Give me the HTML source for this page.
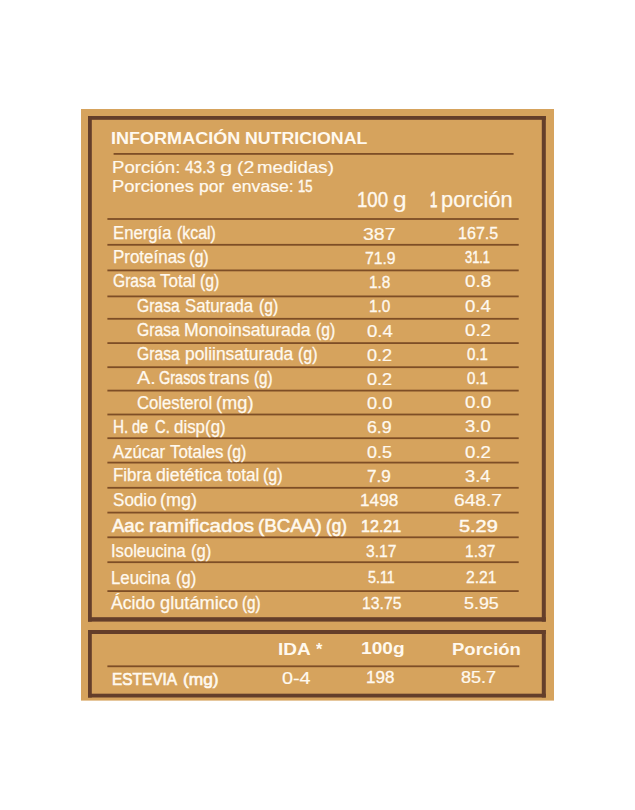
<!DOCTYPE html>
<html lang="es">
<head>
<meta charset="utf-8">
<title>Información Nutricional</title>
<style>
html,body{margin:0;padding:0;background:#fff;}
body{width:635px;height:810px;position:relative;overflow:hidden;font-family:"Liberation Sans",sans-serif;}
.t{position:absolute;display:block;white-space:nowrap;line-height:20px;color:#FFF9EF;transform-origin:0 0;}
.title{font-size:17.4px;font-weight:700;}
.por{font-size:16.6px;font-weight:400;-webkit-text-stroke:0.25px #FFF9EF;}
.head{font-size:21.4px;font-weight:400;-webkit-text-stroke:0.25px #FFF9EF;}
.lab{font-size:17.5px;font-weight:400;-webkit-text-stroke:0.25px #FFF9EF;}
.num{font-size:16.4px;font-weight:400;-webkit-text-stroke:0.3px #FFF9EF;}
.blab{font-size:18.3px;font-weight:400;-webkit-text-stroke:0.55px #FFF9EF;}
.bnum{font-size:16.6px;font-weight:400;-webkit-text-stroke:0.6px #FFF9EF;}
.bhead{font-size:17.4px;font-weight:700;}
.est{font-size:16.6px;font-weight:400;-webkit-text-stroke:0.6px #FFF9EF;}
</style>
</head>
<body>
<svg width="635" height="810" viewBox="0 0 635 810" style="position:absolute;left:0;top:0">
<rect x="81" y="109" width="473" height="591.6" fill="#D6A35D"/>
<rect x="88" y="116" width="457.80" height="3.8" fill="#643E2A"/><rect x="88" y="617.20" width="457.80" height="4.4" fill="#643E2A"/><rect x="88" y="116" width="3.8" height="505.60" fill="#643E2A"/><rect x="541.80" y="116" width="4.0" height="505.60" fill="#643E2A"/>
<rect x="88" y="630" width="457.80" height="4.0" fill="#643E2A"/><rect x="88" y="693.70" width="457.80" height="3.8" fill="#643E2A"/><rect x="88" y="630" width="3.8" height="67.50" fill="#643E2A"/><rect x="541.80" y="630" width="4.0" height="67.50" fill="#643E2A"/>
<rect x="113.6" y="153.00" width="400.00" height="1.8" fill="#7E4E26"/>
<rect x="107.4" y="218.10" width="411.30" height="1.8" fill="#7E4E26"/>
<rect x="107.4" y="243.90" width="411.30" height="1.8" fill="#7E4E26"/>
<rect x="107.4" y="269.50" width="411.30" height="1.8" fill="#7E4E26"/>
<rect x="107.4" y="295.50" width="411.30" height="1.8" fill="#7E4E26"/>
<rect x="107.4" y="317.90" width="411.30" height="1.8" fill="#7E4E26"/>
<rect x="107.4" y="342.20" width="411.30" height="1.8" fill="#7E4E26"/>
<rect x="107.4" y="366.30" width="411.30" height="1.8" fill="#7E4E26"/>
<rect x="107.4" y="389.70" width="411.30" height="1.8" fill="#7E4E26"/>
<rect x="107.4" y="413.60" width="411.30" height="1.8" fill="#7E4E26"/>
<rect x="107.4" y="437.30" width="411.30" height="1.8" fill="#7E4E26"/>
<rect x="107.4" y="461.70" width="411.30" height="1.8" fill="#7E4E26"/>
<rect x="107.4" y="486.90" width="411.30" height="1.8" fill="#7E4E26"/>
<rect x="107.4" y="511.70" width="411.30" height="1.8" fill="#7E4E26"/>
<rect x="107.4" y="536.40" width="411.30" height="1.8" fill="#7E4E26"/>
<rect x="107.4" y="561.30" width="411.30" height="1.8" fill="#7E4E26"/>
<rect x="107.4" y="590.20" width="411.30" height="1.8" fill="#7E4E26"/>
<rect x="107.4" y="665.40" width="411.80" height="1.8" fill="#7E4E26"/>
</svg>
<div class="row">
<span class="t title" style="left:111.20px;top:128px;transform:scaleX(1.0372);">INFORMACIÓN</span>
<span class="t title" style="left:244.72px;top:128px;transform:scaleX(1.0212);">NUTRICIONAL</span>
</div>
<div class="row">
<span class="t por" style="left:112.10px;top:158px;transform:scaleX(1.1227);-webkit-text-stroke:0.17px #FFF9EF;">Porción:</span>
<span class="t por" style="left:185.37px;top:158px;transform:scaleX(0.9302);-webkit-text-stroke:0.30px #FFF9EF;">43.3</span>
<span class="t por" style="left:219.94px;top:158px;transform:scaleX(1.3290);-webkit-text-stroke:0.08px #FFF9EF;">g</span>
<span class="t por" style="left:237.42px;top:158px;transform:scaleX(1.1769);-webkit-text-stroke:0.15px #FFF9EF;">(2</span>
<span class="t por" style="left:257.47px;top:158px;transform:scaleX(1.1268);-webkit-text-stroke:0.17px #FFF9EF;">medidas)</span>
</div>
<div class="row">
<span class="t por" style="left:112.11px;top:177px;transform:scaleX(1.1097);-webkit-text-stroke:0.18px #FFF9EF;">Porciones</span>
<span class="t por" style="left:199.35px;top:177px;transform:scaleX(1.0505);">por</span>
<span class="t por" style="left:231.67px;top:177px;transform:scaleX(1.0613);-webkit-text-stroke:0.21px #FFF9EF;">envase:</span>
<span class="t por" style="left:297.81px;top:177px;transform:scaleX(0.7882);-webkit-text-stroke:0.44px #FFF9EF;">15</span>
</div>
<div class="row">
<span class="t head" style="left:357.19px;top:190px;transform:scaleX(0.8716);-webkit-text-stroke:0.38px #FFF9EF;">100</span>
<span class="t head" style="left:393.24px;top:190px;transform:scaleX(1.1436);-webkit-text-stroke:0.14px #FFF9EF;">g</span>
<span class="t head" style="left:429.73px;top:190px;transform:scaleX(0.6200);-webkit-text-stroke:0.78px #FFF9EF;">1</span>
<span class="t head" style="left:441.32px;top:190px;transform:scaleX(1.0207);">porción</span>
</div>
<div class="row">
<span class="t lab" style="left:112.61px;top:223px;transform:scaleX(0.9544);">Energía</span>
<span class="t lab" style="left:177.09px;top:223px;transform:scaleX(0.9080);-webkit-text-stroke:0.32px #FFF9EF;">(kcal)</span>
<span class="t num" style="left:363.40px;top:224px;transform:scaleX(1.1905);-webkit-text-stroke:0.19px #FFF9EF;">387</span>
<span class="t num" style="left:457.77px;top:223px;transform:scaleX(0.9810);">167.5</span>
</div>
<div class="row">
<span class="t lab" style="left:112.59px;top:247px;transform:scaleX(0.9685);">Proteínas</span>
<span class="t lab" style="left:189.08px;top:247px;transform:scaleX(0.9231);-webkit-text-stroke:0.31px #FFF9EF;">(g)</span>
<span class="t num" style="left:365.28px;top:248px;transform:scaleX(0.9590);">71.9</span>
<span class="t num" style="left:465.30px;top:247px;transform:scaleX(0.7840);-webkit-text-stroke:0.50px #FFF9EF;">31.1</span>
</div>
<div class="row">
<span class="t lab" style="left:112.63px;top:271px;transform:scaleX(0.8936);-webkit-text-stroke:0.34px #FFF9EF;">Grasa</span>
<span class="t lab" style="left:160.36px;top:271px;transform:scaleX(0.9706);">Total</span>
<span class="t lab" style="left:200.30px;top:271px;transform:scaleX(0.9000);-webkit-text-stroke:0.33px #FFF9EF;">(g)</span>
<span class="t num" style="left:369.31px;top:272px;transform:scaleX(0.9412);-webkit-text-stroke:0.34px #FFF9EF;">1.8</span>
<span class="t num" style="left:464.93px;top:271px;transform:scaleX(1.1494);-webkit-text-stroke:0.21px #FFF9EF;">0.8</span>
</div>
<div class="row">
<span class="t lab" style="left:137.13px;top:296px;transform:scaleX(0.8957);-webkit-text-stroke:0.33px #FFF9EF;">Grasa</span>
<span class="t lab" style="left:184.88px;top:296px;transform:scaleX(0.9603);">Saturada</span>
<span class="t lab" style="left:258.71px;top:296px;transform:scaleX(0.8923);-webkit-text-stroke:0.34px #FFF9EF;">(g)</span>
<span class="t num" style="left:369.31px;top:296px;transform:scaleX(0.9412);-webkit-text-stroke:0.34px #FFF9EF;">1.0</span>
<span class="t num" style="left:464.93px;top:296px;transform:scaleX(1.1364);-webkit-text-stroke:0.21px #FFF9EF;">0.4</span>
</div>
<div class="row">
<span class="t lab" style="left:137.13px;top:320px;transform:scaleX(0.8957);-webkit-text-stroke:0.33px #FFF9EF;">Grasa</span>
<span class="t lab" style="left:184.34px;top:320px;transform:scaleX(1.0085);">Monoinsaturada</span>
<span class="t lab" style="left:315.71px;top:320px;transform:scaleX(0.8923);-webkit-text-stroke:0.34px #FFF9EF;">(g)</span>
<span class="t num" style="left:367.18px;top:321px;transform:scaleX(1.1364);-webkit-text-stroke:0.21px #FFF9EF;">0.4</span>
<span class="t num" style="left:464.93px;top:320px;transform:scaleX(1.1395);-webkit-text-stroke:0.21px #FFF9EF;">0.2</span>
</div>
<div class="row">
<span class="t lab" style="left:137.13px;top:344px;transform:scaleX(0.8957);-webkit-text-stroke:0.33px #FFF9EF;">Grasa</span>
<span class="t lab" style="left:185.01px;top:344px;transform:scaleX(0.9935);">poliinsaturada</span>
<span class="t lab" style="left:298.29px;top:344px;transform:scaleX(0.9128);-webkit-text-stroke:0.32px #FFF9EF;">(g)</span>
<span class="t num" style="left:367.20px;top:345px;transform:scaleX(1.1047);-webkit-text-stroke:0.23px #FFF9EF;">0.2</span>
<span class="t num" style="left:467.04px;top:344px;transform:scaleX(0.9195);-webkit-text-stroke:0.36px #FFF9EF;">0.1</span>
</div>
<div class="row">
<span class="t lab" style="left:136.90px;top:368px;transform:scaleX(1.1333);-webkit-text-stroke:0.16px #FFF9EF;">A.</span>
<span class="t lab" style="left:158.58px;top:368px;transform:scaleX(0.8271);-webkit-text-stroke:0.40px #FFF9EF;">Grasos</span>
<span class="t lab" style="left:209.34px;top:368px;transform:scaleX(1.0342);">trans</span>
<span class="t lab" style="left:253.73px;top:368px;transform:scaleX(0.8667);-webkit-text-stroke:0.36px #FFF9EF;">(g)</span>
<span class="t num" style="left:367.20px;top:369px;transform:scaleX(1.1047);-webkit-text-stroke:0.23px #FFF9EF;">0.2</span>
<span class="t num" style="left:467.04px;top:368px;transform:scaleX(0.9195);-webkit-text-stroke:0.36px #FFF9EF;">0.1</span>
</div>
<div class="row">
<span class="t lab" style="left:137.09px;top:393px;transform:scaleX(0.9532);">Colesterol</span>
<span class="t lab" style="left:215.96px;top:393px;transform:scaleX(1.0441);">(mg)</span>
<span class="t num" style="left:367.19px;top:393px;transform:scaleX(1.1149);-webkit-text-stroke:0.23px #FFF9EF;">0.0</span>
<span class="t num" style="left:464.93px;top:392px;transform:scaleX(1.1494);-webkit-text-stroke:0.21px #FFF9EF;">0.0</span>
</div>
<div class="row">
<span class="t lab" style="left:112.91px;top:417px;transform:scaleX(0.8746);-webkit-text-stroke:0.35px #FFF9EF;">H.</span>
<span class="t lab" style="left:132.19px;top:417px;transform:scaleX(0.8270);-webkit-text-stroke:0.40px #FFF9EF;">de</span>
<span class="t lab" style="left:154.97px;top:417px;transform:scaleX(0.8459);-webkit-text-stroke:0.38px #FFF9EF;">C.</span>
<span class="t lab" style="left:173.52px;top:417px;transform:scaleX(0.9663);">disp(g)</span>
<span class="t num" style="left:367.44px;top:417px;transform:scaleX(1.0814);-webkit-text-stroke:0.25px #FFF9EF;">6.9</span>
<span class="t num" style="left:464.94px;top:416px;transform:scaleX(1.1264);-webkit-text-stroke:0.22px #FFF9EF;">3.0</span>
</div>
<div class="row">
<span class="t lab" style="left:112.60px;top:442px;transform:scaleX(0.9567);">Azúcar</span>
<span class="t lab" style="left:169.76px;top:442px;transform:scaleX(0.9662);">Totales</span>
<span class="t lab" style="left:227.19px;top:442px;transform:scaleX(0.9051);-webkit-text-stroke:0.33px #FFF9EF;">(g)</span>
<span class="t num" style="left:367.20px;top:442px;transform:scaleX(1.0920);-webkit-text-stroke:0.24px #FFF9EF;">0.5</span>
<span class="t num" style="left:464.93px;top:442px;transform:scaleX(1.1395);-webkit-text-stroke:0.21px #FFF9EF;">0.2</span>
</div>
<div class="row">
<span class="t lab" style="left:112.59px;top:465px;transform:scaleX(0.9677);">Fibra</span>
<span class="t lab" style="left:156.09px;top:465px;transform:scaleX(1.0131);">dietética</span>
<span class="t lab" style="left:226.66px;top:465px;transform:scaleX(0.9764);">total</span>
<span class="t lab" style="left:262.68px;top:465px;transform:scaleX(0.9179);-webkit-text-stroke:0.32px #FFF9EF;">(g)</span>
<span class="t num" style="left:367.47px;top:466px;transform:scaleX(1.0465);">7.9</span>
<span class="t num" style="left:464.94px;top:466px;transform:scaleX(1.1136);-webkit-text-stroke:0.23px #FFF9EF;">3.4</span>
</div>
<div class="row">
<span class="t lab" style="left:112.77px;top:490px;transform:scaleX(0.9747);">Sodio</span>
<span class="t lab" style="left:160.17px;top:490px;transform:scaleX(1.0309);">(mg)</span>
<span class="t num" style="left:360.45px;top:490px;transform:scaleX(1.0500);">1498</span>
<span class="t num" style="left:454.12px;top:490px;transform:scaleX(1.1709);-webkit-text-stroke:0.20px #FFF9EF;">648.7</span>
</div>
<div class="row">
<span class="t blab" style="left:112.00px;top:516px;transform:scaleX(1.0143);">Aac</span>
<span class="t blab" style="left:148.67px;top:516px;transform:scaleX(1.1250);-webkit-text-stroke:0.45px #FFF9EF;">ramificados</span>
<span class="t blab" style="left:258.23px;top:516px;transform:scaleX(1.0274);">(BCAA)</span>
<span class="t blab" style="left:325.90px;top:516px;transform:scaleX(0.9349);-webkit-text-stroke:0.61px #FFF9EF;">(g)</span>
<span class="t bnum" style="left:360.53px;top:517px;transform:scaleX(0.9688);">12.21</span>
<span class="t bnum" style="left:459.40px;top:517px;transform:scaleX(1.2000);-webkit-text-stroke:0.46px #FFF9EF;">5.29</span>
</div>
<div class="row">
<span class="t lab" style="left:110.78px;top:541px;transform:scaleX(0.9484);">Isoleucina</span>
<span class="t lab" style="left:190.95px;top:541px;transform:scaleX(0.9538);">(g)</span>
<span class="t num" style="left:366.02px;top:541px;transform:scaleX(0.9593);">3.17</span>
<span class="t num" style="left:465.30px;top:541px;transform:scaleX(0.9504);">1.37</span>
</div>
<div class="row">
<span class="t lab" style="left:111.10px;top:568px;transform:scaleX(0.9627);">Leucina</span>
<span class="t lab" style="left:175.66px;top:568px;transform:scaleX(0.9436);-webkit-text-stroke:0.29px #FFF9EF;">(g)</span>
<span class="t num" style="left:367.81px;top:567px;transform:scaleX(0.8729);-webkit-text-stroke:0.40px #FFF9EF;">5.11</span>
<span class="t num" style="left:465.53px;top:567px;transform:scaleX(0.9590);">2.21</span>
</div>
<div class="row">
<span class="t lab" style="left:111.30px;top:593px;transform:scaleX(1.0081);">Ácido</span>
<span class="t lab" style="left:160.08px;top:593px;transform:scaleX(1.0427);">glutámico</span>
<span class="t lab" style="left:242.13px;top:593px;transform:scaleX(0.8718);-webkit-text-stroke:0.36px #FFF9EF;">(g)</span>
<span class="t num" style="left:361.79px;top:593px;transform:scaleX(0.9620);">13.75</span>
<span class="t num" style="left:463.96px;top:593px;transform:scaleX(1.0894);-webkit-text-stroke:0.24px #FFF9EF;">5.95</span>
</div>
<div class="row">
<span class="t bhead" style="left:277.63px;top:639px;transform:scaleX(1.0938);">IDA</span>
<span class="t bhead" style="left:316.36px;top:639px;transform:scaleX(0.9462);">*</span>
<span class="t bhead" style="left:360.90px;top:638px;transform:scaleX(1.1000);">100g</span>
<span class="t bhead" style="left:451.67px;top:639px;transform:scaleX(1.0640);">Porción</span>
</div>
<div class="row">
<span class="t est" style="left:111.57px;top:670px;transform:scaleX(0.9266);-webkit-text-stroke:0.67px #FFF9EF;">ESTEVIA</span>
<span class="t est" style="left:182.82px;top:670px;transform:scaleX(1.0431);">(mg)</span>
<span class="t num" style="left:282.15px;top:668px;transform:scaleX(1.2088);-webkit-text-stroke:0.18px #FFF9EF;">0-4</span>
<span class="t num" style="left:366.21px;top:667px;transform:scaleX(1.0388);">198</span>
<span class="t num" style="left:460.70px;top:667px;transform:scaleX(1.0976);-webkit-text-stroke:0.24px #FFF9EF;">85.7</span>
</div>
</body>
</html>
